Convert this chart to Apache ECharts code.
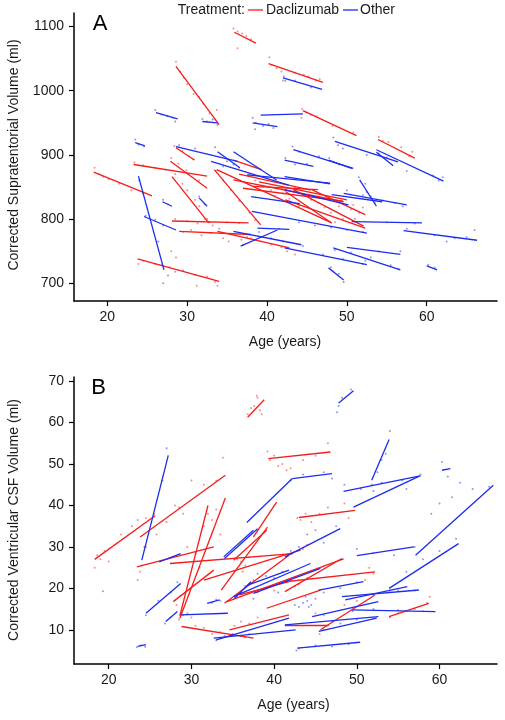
<!DOCTYPE html>
<html><head><meta charset="utf-8">
<script src="https://cdn.jsdelivr.net/npm/echarts/dist/echarts.min.js"></script>
<style>html,body{margin:0;padding:0;background:#fff}#c{width:505px;height:720px}</style>
</head><body><div id="c"></div><script>
// Tick labels
const ageTicks = [20, 30, 40, 50, 60];
const supraTicks = [700, 800, 900, 1000, 1100];
const csfTicks = [10, 20, 30, 40, 50, 60, 70];

// Panel A: per-subject fitted segments [ageStart, volStart, ageEnd, volEnd]
const supraDaclizumab = [
  [35.9,1091,38.6,1074],[40.2,1042,47.0,1013],[28.6,1038,34.0,947],[44.5,969,51.2,930],
  [53.9,924,58.5,895],[18.3,873,25.6,836],[23.3,885,32.5,867],[28.6,911,30.9,892],
  [27.9,890,32.5,848],[28.1,866,32.7,794],[28.1,797,37.7,794],[29.0,781,38.0,776],
  [23.8,738,34.0,703],[33.4,877,39.2,791],[33.8,781,42.8,755],[35.8,892,39.3,877],
  [42.3,843,48.1,794],[45.6,846,52.3,807],[42.3,830,52.3,786],[33.7,877,48.1,794],
  [35.8,861,49.6,827],[38.3,851,46.4,846],[37.0,848,49.5,828],[43.3,846,52.1,789],
  [36.5,870,45.5,845],[39.0,858,50.0,830]
];
const supraOther = [
  [26.1,966,28.8,956],[31.9,952,33.8,950],[39.2,962,44.5,964],[38.2,950,41.3,944],
  [42.0,1020,46.9,1002],[23.5,919,24.7,914],[28.6,913,36.3,890],[33.8,905,36.6,880],
  [43.3,908,50.8,879],[48.5,921,56.4,889],[53.7,908,62.1,859],[53.7,904,55.8,883],
  [42.2,892,45.8,882],[47.7,892,50.6,879],[42.2,866,47.9,855],[51.6,861,53.7,820],
  [49.6,840,57.5,822],[48.1,838,54.4,827],[42.2,846,50.2,822],[38.1,812,52.5,778],
  [50.6,796,59.4,794],[57.1,782,66.3,767],[48.3,755,56.7,721],[50.0,756,56.7,745],
  [42.2,755,52.5,729],[47.7,724,49.6,705],[60.0,727,61.3,721],[23.9,867,27.1,721],
  [26.9,827,28.1,820],[31.5,833,32.5,820],[24.6,804,28.6,783],[35.8,781,44.3,760],
  [36.7,758,41.3,783],[38.8,786,42.8,784],[38.0,835,44.1,824],[37.5,869,47.9,856],
  [35.8,905,41.2,861],[33.0,890,42.7,853]
];
// Panel A: individual measurements [age, volume]
const supraDacPoints = [
  [35.8,1097],[36.3,1092],[36.9,1089],[37.4,1085],[38.0,1080],[36.3,1066],
  [40.3,1052],[40.6,1040],[41.2,1035],[41.8,1030],[42.0,1016],[43.5,1028],[44.6,1025],[45.2,1022],[46.1,1016],[46.6,1018],
  [28.6,1045],[29.1,1030],[29.6,1020],[30.0,1010],[30.8,995],[31.5,990],[32.0,980],[32.8,965],[33.5,955],[33.7,970],
  [44.4,972],[44.9,966],[45.5,963],[46.2,960],[44.3,958],[50.8,935],[48.2,945],
  [54.0,928],[54.5,922],[55.2,920],[56.8,912],[57.8,898],[58.2,905],
  [18.4,880],[19.0,870],[19.5,866],[20.2,862],[21.5,855],[23.0,845],[24.5,840],
  [23.4,888],[24.5,884],[26.0,880],[27.3,877],[28.4,914],[29.4,906],[30.2,898],[30.8,893],[28.0,895],[28.9,886],
  [29.9,876],[31.5,860],[28.5,870],[29.4,855],[30.0,845],[31.0,830],[31.5,820],[32.2,800],[32.8,795],
  [28.5,800],[30.0,797],[31.3,793],[32.5,800],[33.2,790],[34.0,785],[35.0,795],[36.5,794],[29.5,780],[30.5,783],
  [31.8,775],[33.0,778],[34.5,770],[36.0,777],[37.5,772],[35.2,765],[36.8,768],
  [23.9,730],[24.5,735],[26.0,730],[27.8,725],[28.5,718],[29.5,720],[31.0,713],[32.5,710],[33.5,702],[28.0,750],[28.6,740],[33.8,696],[31.2,696],
  [33.6,875],[34.5,860],[35.5,845],[36.5,828],[37.8,810],[38.5,798],[38.0,770],[39.2,765],[40.5,760],[41.8,756],[42.5,750],[43.5,745],
  [38.5,860],[39.5,850],[40.5,845],[41.0,836],[42.0,840],[42.8,832],[43.5,850],[44.5,838],[45.5,830],[46.5,825],[47.2,818],[48.0,810],
  [49.0,820],[50.5,815],[51.5,810],[52.0,818],[50.8,822],[49.5,800],[48.5,795],[44.0,820],[40.0,865],[36.5,880],[37.8,870]
];
const supraOtherPoints = [
  [26.0,970],[26.8,963],[27.5,960],[28.2,958],[28.5,952],
  [31.9,956],[32.5,952],[33.2,955],[33.8,947],
  [38.2,958],[38.6,950],[39.5,945],[40.2,948],[40.8,942],[38.5,940],
  [42.1,1022],[42.3,1015],[43.5,1016],[45.5,1005],
  [23.5,924],[23.9,916],[24.6,913],
  [29.0,915],[31.0,910],[33.5,912],[35.0,890],[34.5,882],[35.8,885],
  [43.2,913],[44.0,905],[46.5,898],[48.3,927],[48.9,915],[49.5,910],[52.5,900],[54.0,902],[55.0,896],[57.5,875],[60.8,868],[61.5,860],[62.0,865],
  [42.3,895],[43.5,885],[45.0,886],[47.8,895],[49.0,885],
  [51.5,865],[52.3,855],[53.0,835],[53.5,825],[52.5,842],
  [50.0,845],[52.0,837],[54.5,829],[56.0,825],[57.0,820],
  [24.0,860],[24.8,805],[26.0,799],[27.0,790],[26.4,765],[27.6,712],[26.8,728],[27.0,700],
  [27.0,830],[27.6,823],[31.5,835],[32.2,823],
  [39.0,780],[40.5,770],[42.0,765],[37.0,760],[41.5,785],
  [44.0,795],[46.0,790],[48.0,787],[50.0,783],[52.0,780],
  [51.0,800],[55.0,795],[58.5,793],[57.5,785],[61.0,775],[63.5,770],[65.0,772],[66.0,783],[62.5,765],
  [48.5,752],[50.5,748],[53.0,740],[55.5,728],[56.5,722],[54.0,750],[56.7,750],
  [44.5,758],[47.0,745],[49.5,738],[52.0,730],[52.3,735],
  [48.0,725],[49.0,715],[49.6,702],[60.2,729],[61.0,724]
];

// Panel B
const csfDaclizumab = [
  [18.3,27.0,25.6,37.5],[23.8,32.4,34.1,47.3],[36.8,61.3,38.8,65.5],[39.3,51.3,46.8,52.9],
  [28.6,12.8,34.1,41.8],[28.6,13.4,32.0,40.0],[27.8,16.8,32.7,24.4],[23.4,25.2,32.7,30.0],
  [27.4,26.0,42.3,28.4],[28.8,10.8,37.5,8.0],[37.5,32.4,40.3,40.8],[43.0,37.1,49.8,38.8],
  [33.6,19.6,39.2,34.8],[34.0,16.4,41.8,28.0],[35.1,26.8,39.1,34.0],[31.5,22.0,43.2,29.2],
  [34.3,16.8,48.4,27.1],[35.8,18.4,41.8,21.6],[41.3,21.6,52.2,24.0],[41.3,19.2,48.2,27.2],
  [39.1,15.2,45.6,19.6],[45.6,10.0,52.2,18.4],[53.9,13.2,58.7,16.4],[34.6,10.0,41.8,13.6],
  [41.3,11.2,46.6,11.2]
];
const csfOther = [
  [24.0,26.8,27.2,52.1],[36.7,35.9,42.2,46.5],[42.2,46.5,47.0,47.7],[47.8,64.7,49.6,67.7],
  [51.8,46.1,53.9,55.9],[48.4,43.4,57.5,47.1],[49.6,39.6,57.7,47.2],[60.3,48.5,61.3,48.9],
  [57.1,28.0,66.5,44.9],[26.1,26.4,28.7,28.4],[24.5,14.0,28.7,21.2],[26.9,12.0,28.3,14.4],
  [28.7,13.6,34.4,14.0],[23.5,6.0,24.5,6.4],[34.0,27.2,38.0,34.4],[31.9,16.4,33.4,17.2],
  [35.2,17.6,37.2,21.6],[36.8,20.8,41.8,24.4],[33.0,7.6,41.8,12.8],[41.3,27.6,48.0,34.4],
  [50.0,27.9,56.9,30.0],[53.9,20.0,62.3,30.8],[45.4,19.6,50.8,21.6],[48.2,18.0,57.5,19.6],
  [48.6,17.2,56.1,20.4],[41.3,11.2,52.6,13.2],[49.4,14.8,59.5,14.4],[42.8,5.6,50.4,7.0],
  [32.7,8.0,42.6,10.0],[35.1,18.0,44.4,26.0],[37.5,18.8,45.6,24.8],[44.6,13.2,52.6,16.8],
  [45.4,9.6,52.4,12.8],[33.9,27.6,37.5,34.0]
];
const csfDacPoints = [
  [18.3,25],[18.6,28],[19.0,27],[19.5,29],[20.0,26.5],[21.5,33],[22.8,35],[23.5,36.5],[24.5,37],[25.5,38],
  [23.5,22],[23.8,24],[24.5,30],[25.8,33],[27.0,36],[28.0,40],[28.5,39.5],[29.0,38],[30.0,46],[31.5,45],[33.0,46],[33.8,51.5],
  [36.8,62],[37.2,63.5],[37.6,64],[38.0,66],[38.3,63],[38.5,62],[37.9,66.5],
  [39.2,53],[39.5,51],[40.0,52],[40.5,49.5],[41.0,50],[41.5,48.5],[42.0,49],[43.5,51],[45.0,52],[46.5,55],
  [42.8,37],[43.2,36.5],[43.8,38],[44.5,36],[45.5,38],[46.5,39.5],[48.5,40.5],[49.0,37],
  [29.5,30],[30.5,28.5],[31.0,25],[31.5,35],[32.0,38],[32.5,36.5],[33.0,39],[33.5,33],
  [28.5,12.5],[29.0,13.5],[29.5,14],[30.0,13],[28.2,16],[30.5,11],[31.5,10.5],[32.5,9],[33.5,9.5],[35.0,8.5],[36.5,8.2],[37.0,9],
  [35.5,27],[36.0,26.5],[36.5,25.5],[37.0,27.5],[36.2,24],[37.5,22],[38.0,19],[39.0,20],[40.0,19.5],[41.0,21.5],
  [42.0,22],[42.5,20.5],[43.0,21],[44.0,22.5],[43.5,29.5],[44.0,30.5],
  [35.2,11],[36.0,12],[37.0,11.5],[38.0,13],[45.0,14],[46.0,13.5],[47.0,12],[45.5,9],[48.5,16],[50.0,17],[51.0,22],[52.0,23.5],[51.5,25],
  [54.0,13],[55.0,14],[56.0,14.5],[57.0,15],[58.5,16.5],[58.8,18]
];
const csfOtherPoints = [
  [24.0,25.5],[24.3,30],[26.5,46],[27.0,53.8],
  [24.5,13.5],[26.0,17],[27.5,19],[28.3,21.5],[26.8,11.5],[27.5,13],[19.3,19.3],
  [23.4,5.8],[23.9,6.2],[24.4,5.9],
  [32.5,16.5],[33.0,17.3],[33.5,17],
  [33.0,7.5],[33.5,8],[34.0,8.5],[35.0,9],[36.0,8.5],
  [35.5,18],[36.0,19],[36.5,20.5],[37.0,21],[37.5,17.5],
  [38.0,23.5],[39.0,23],[40.0,22.5],[41.0,24],[40.5,19],
  [43.0,15.5],[43.5,16.5],[44.0,17],[44.5,16],[45.0,17.5],[42.5,16],[43.8,18],[44.2,15.5],
  [42.0,29],[43.0,30],[44.0,33],[45.0,34],[46.0,31],[47.5,35],
  [42.0,46],[43.5,47.5],[46.0,48],[47.0,46.5],
  [47.8,64],[48.2,66],[49.3,68],[47.6,62.5],
  [51.8,45],[52.5,48],[53.0,51],[53.5,52.5],[54.0,58],[52.0,43.5],
  [48.5,45],[50.5,44],[53.0,45.5],[55.5,46],[57.7,47.5],[56.0,44],
  [60.3,50.5],[61.0,47],[59.0,38],[60.0,40.5],[61.5,42],[62.5,45.5],[64.0,44],[66.0,44.5],
  [50.0,29.5],[52.0,28.5],[54.5,28],[57.0,30],
  [54.0,19.5],[56.0,24],[58.0,27],[60.0,29],[62.0,32],
  [46.0,19],[48.0,20],[50.0,21.5],[52.0,18.5],[55.0,19.5],[57.0,19.5],
  [49.5,14.5],[52.0,15],[55.0,14.8],[58.0,14.5],
  [43.0,5.5],[45.0,6.2],[47.0,6],[49.0,6.5],[42.7,5],
  [46.0,10],[48.0,11.5],[50.0,12.5],[52.0,12.8]
];

const RED = '#f41c1c', BLUE = '#1c2cf0';
const RED_PT = '#f47a7a', BLUE_PT = '#7a84f0';
const FONT = 'Liberation Sans, Arial, sans-serif';

function seg(list){ return list.map(s => ({coords: [[s[0], s[1]], [s[2], s[3]]]})); }

function xAx(grid, min, max){
  return {gridIndex: grid, type: 'value', min: min, max: max,
    axisLine: {show: true, onZero: false, lineStyle: {color: '#000', width: 1.5}},
    axisTick: {show: true, length: 5, customValues: ageTicks, lineStyle: {color: '#000', width: 1.2}},
    axisLabel: {customValues: ageTicks, fontSize: 14, color: '#1a1a1a', margin: 9, fontFamily: FONT},
    splitLine: {show: false}};
}
function yAx(grid, min, max, ticks){
  return {gridIndex: grid, type: 'value', min: min, max: max,
    axisLine: {show: true, onZero: false, lineStyle: {color: '#000', width: 1.5}},
    axisTick: {show: true, length: 5, customValues: ticks, lineStyle: {color: '#000', width: 1.2}},
    axisLabel: {customValues: ticks, formatter: v => String(v), fontSize: 14, color: '#1a1a1a', margin: 10, fontFamily: FONT},
    splitLine: {show: false}};
}
function linesSeries(list, color, xi, yi){
  return {type: 'lines', coordinateSystem: 'cartesian2d', xAxisIndex: xi, yAxisIndex: yi,
    data: seg(list), silent: true, animation: false, z: 3,
    lineStyle: {color: color, width: 1.3, opacity: 1, curveness: 0}};
}
function dotSeries(list, color, xi, yi){
  return {type: 'scatter', xAxisIndex: xi, yAxisIndex: yi, data: list, silent: true,
    symbol: 'circle', symbolSize: 2, z: 2, itemStyle: {color: color, opacity: 0.85}};
}

const chart = echarts.init(document.getElementById('c'), null, {renderer: 'canvas'});
chart.setOption({
  animation: false,
  backgroundColor: '#fff',
  grid: [
    {left: 74, top: 13, width: 423, height: 288},
    {left: 74, top: 377, width: 423, height: 287}
  ],
  xAxis: [xAx(0, 15.83, 68.8), xAx(1, 15.8, 66.95)],
  yAxis: [yAx(0, 672.4, 1121, supraTicks), yAx(1, 1.75, 71, csfTicks)],
  series: [
    dotSeries(supraDacPoints, RED_PT, 0, 0),
    dotSeries(supraOtherPoints, BLUE_PT, 0, 0),
    dotSeries(csfDacPoints, RED_PT, 1, 1),
    dotSeries(csfOtherPoints, BLUE_PT, 1, 1),
    linesSeries(supraDaclizumab, RED, 0, 0),
    linesSeries(supraOther, BLUE, 0, 0),
    linesSeries(csfDaclizumab, RED, 1, 1),
    linesSeries(csfOther, BLUE, 1, 1)
  ],
  graphic: [
    {type: 'text', x: 100, y: 24, style: {text: 'A', font: '22px ' + FONT, fill: '#000', align: 'center', verticalAlign: 'middle'}},
    {type: 'text', x: 98.5, y: 388, style: {text: 'B', font: '22px ' + FONT, fill: '#000', align: 'center', verticalAlign: 'middle'}},
    {type: 'text', x: 245, y: 10, style: {text: 'Treatment:', font: '14px ' + FONT, fill: '#1a1a1a', align: 'right', verticalAlign: 'middle'}},
    {type: 'line', shape: {x1: 248, y1: 10, x2: 263, y2: 10}, style: {stroke: RED, lineWidth: 1.3}},
    {type: 'text', x: 266, y: 10, style: {text: 'Daclizumab', font: '14px ' + FONT, fill: '#1a1a1a', align: 'left', verticalAlign: 'middle'}},
    {type: 'line', shape: {x1: 343, y1: 10, x2: 358, y2: 10}, style: {stroke: BLUE, lineWidth: 1.3}},
    {type: 'text', x: 360, y: 10, style: {text: 'Other', font: '14px ' + FONT, fill: '#1a1a1a', align: 'left', verticalAlign: 'middle'}},
    {type: 'text', x: 14, y: 155, rotation: Math.PI / 2, style: {text: 'Corrected Supratentorial Volume (ml)', font: '14px ' + FONT, fill: '#1a1a1a', align: 'center', verticalAlign: 'middle'}},
    {type: 'text', x: 14, y: 520, rotation: Math.PI / 2, style: {text: 'Corrected Ventricular CSF Volume (ml)', font: '14px ' + FONT, fill: '#1a1a1a', align: 'center', verticalAlign: 'middle'}},
    {type: 'text', x: 285, y: 342, style: {text: 'Age (years)', font: '14px ' + FONT, fill: '#1a1a1a', align: 'center', verticalAlign: 'middle'}},
    {type: 'text', x: 293.5, y: 705, style: {text: 'Age (years)', font: '14px ' + FONT, fill: '#1a1a1a', align: 'center', verticalAlign: 'middle'}}
  ]
});
</script></body></html>
